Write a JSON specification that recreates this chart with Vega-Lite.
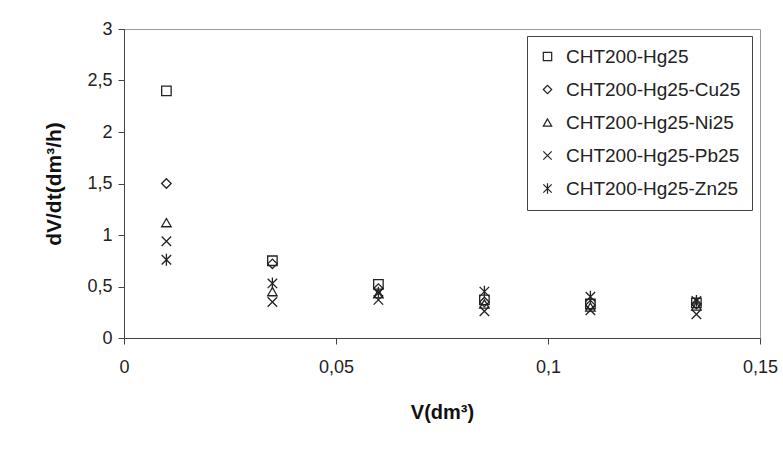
{
  "$schema": "https://vega.github.io/schema/vega-lite/v6.json",
  "width": 636,
  "height": 309,
  "autosize": {"type": "none"},
  "padding": {"left": 124, "top": 29, "right": 23, "bottom": 123},
  "background": "white",
  "data": {
    "values": [
      {"series": "CHT200-Hg25", "V": 0.01, "dVdt": 2.40},
      {"series": "CHT200-Hg25", "V": 0.035, "dVdt": 0.75},
      {"series": "CHT200-Hg25", "V": 0.06, "dVdt": 0.52},
      {"series": "CHT200-Hg25", "V": 0.085, "dVdt": 0.37},
      {"series": "CHT200-Hg25", "V": 0.11, "dVdt": 0.33},
      {"series": "CHT200-Hg25", "V": 0.135, "dVdt": 0.34},
      {"series": "CHT200-Hg25-Cu25", "V": 0.01, "dVdt": 1.50},
      {"series": "CHT200-Hg25-Cu25", "V": 0.035, "dVdt": 0.72},
      {"series": "CHT200-Hg25-Cu25", "V": 0.06, "dVdt": 0.48},
      {"series": "CHT200-Hg25-Cu25", "V": 0.085, "dVdt": 0.35},
      {"series": "CHT200-Hg25-Cu25", "V": 0.11, "dVdt": 0.32},
      {"series": "CHT200-Hg25-Cu25", "V": 0.135, "dVdt": 0.33},
      {"series": "CHT200-Hg25-Ni25", "V": 0.01, "dVdt": 1.12},
      {"series": "CHT200-Hg25-Ni25", "V": 0.035, "dVdt": 0.45},
      {"series": "CHT200-Hg25-Ni25", "V": 0.06, "dVdt": 0.43},
      {"series": "CHT200-Hg25-Ni25", "V": 0.085, "dVdt": 0.33},
      {"series": "CHT200-Hg25-Ni25", "V": 0.11, "dVdt": 0.30},
      {"series": "CHT200-Hg25-Ni25", "V": 0.135, "dVdt": 0.31},
      {"series": "CHT200-Hg25-Pb25", "V": 0.01, "dVdt": 0.94},
      {"series": "CHT200-Hg25-Pb25", "V": 0.035, "dVdt": 0.35},
      {"series": "CHT200-Hg25-Pb25", "V": 0.06, "dVdt": 0.37},
      {"series": "CHT200-Hg25-Pb25", "V": 0.085, "dVdt": 0.26},
      {"series": "CHT200-Hg25-Pb25", "V": 0.11, "dVdt": 0.27},
      {"series": "CHT200-Hg25-Pb25", "V": 0.135, "dVdt": 0.23},
      {"series": "CHT200-Hg25-Zn25", "V": 0.01, "dVdt": 0.76},
      {"series": "CHT200-Hg25-Zn25", "V": 0.035, "dVdt": 0.53},
      {"series": "CHT200-Hg25-Zn25", "V": 0.06, "dVdt": 0.44},
      {"series": "CHT200-Hg25-Zn25", "V": 0.085, "dVdt": 0.45},
      {"series": "CHT200-Hg25-Zn25", "V": 0.11, "dVdt": 0.40},
      {"series": "CHT200-Hg25-Zn25", "V": 0.135, "dVdt": 0.36}
    ]
  },
  "mark": {"type": "point", "filled": false, "strokeWidth": 1.3, "size": 90, "color": "#222", "opacity": 1},
  "encoding": {
    "x": {
      "field": "V",
      "type": "quantitative",
      "scale": {"domain": [0, 0.15], "nice": false, "zero": true},
      "axis": {
        "values": [0, 0.05, 0.1, 0.15],
        "labelExpr": "replace(toString(datum.value), '.', ',')",
        "title": "V(dm³)",
        "labelPadding": 14,
        "titlePadding": 26,
        "labelFlush": false
      }
    },
    "y": {
      "field": "dVdt",
      "type": "quantitative",
      "scale": {"domain": [0, 3], "nice": false},
      "axis": {
        "values": [0, 0.5, 1, 1.5, 2, 2.5, 3],
        "labelExpr": "replace(toString(datum.value), '.', ',')",
        "title": "dV/dt(dm³/h)",
        "labelPadding": 6,
        "titlePadding": 22,
        "titleFontSize": 21
      }
    },
    "shape": {
      "field": "series",
      "type": "nominal",
      "scale": {
        "domain": ["CHT200-Hg25", "CHT200-Hg25-Cu25", "CHT200-Hg25-Ni25", "CHT200-Hg25-Pb25", "CHT200-Hg25-Zn25"],
        "range": ["square", "diamond", "triangle-up", "M-1,-1L1,1M-1,1L1,-1", "M-1,-1L1,1M-1,1L1,-1M0,-1.25L0,1.25"]
      },
      "legend": {
        "title": null,
        "orient": "none",
        "legendX": 403,
        "legendY": 7,
        "strokeColor": "#444",
        "fillColor": "white",
        "padding": 11,
        "rowPadding": 13,
        "labelFontSize": 19,
        "labelLimit": 400,
        "labelFont": "Liberation Sans",
        "labelColor": "#222",
        "labelOffset": 9,
        "symbolSize": 70,
        "symbolStrokeWidth": 1.2,
        "symbolStrokeColor": "#222",
        "symbolFillColor": "transparent",
        "symbolType": "square"
      }
    }
  },
  "config": {
    "font": "Liberation Sans",
    "view": {"stroke": "#999", "strokeWidth": 1},
    "axis": {
      "grid": false,
      "domainColor": "#444",
      "tickColor": "#444",
      "tickSize": 6,
      "labelFont": "Liberation Sans",
      "labelFontSize": 18,
      "labelColor": "#222",
      "titleFont": "Liberation Sans",
      "titleFontSize": 20,
      "titleFontWeight": "bold",
      "titleColor": "#111"
    }
  }
}
